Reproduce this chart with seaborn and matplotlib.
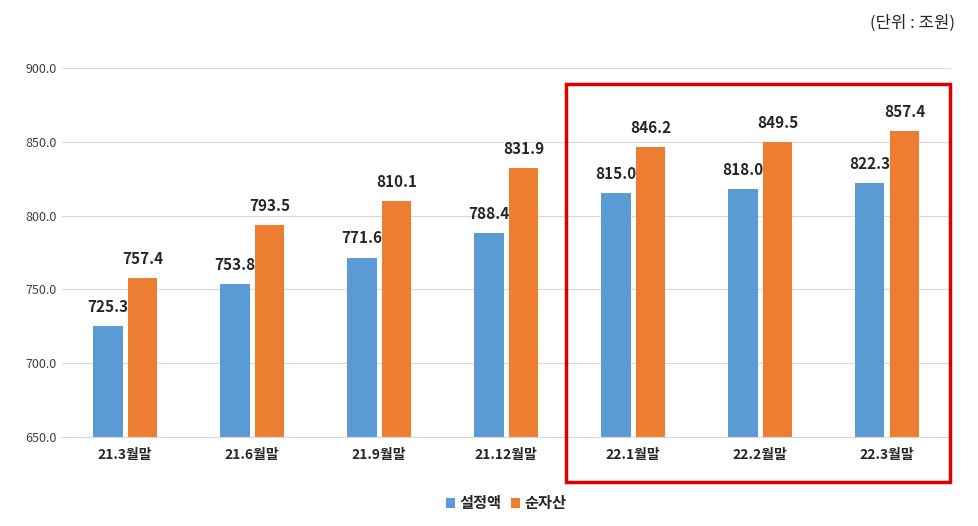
import matplotlib
matplotlib.use("Agg")
import matplotlib.pyplot as plt
import seaborn as sns
import pandas as pd
from matplotlib.patches import Rectangle

categories = ["21.3월말", "21.6월말", "21.9월말", "21.12월말", "22.1월말", "22.2월말", "22.3월말"]
setting = [725.3, 753.8, 771.6, 788.4, 815.0, 818.0, 822.3]
net_assets = [757.4, 793.5, 810.1, 831.9, 846.2, 849.5, 857.4]
series_names = ["설정액", "순자산"]
colors = ["#5B9BD5", "#ED7D31"]

sns.set_style("white")
plt.rcParams['font.family'] = ['Noto Sans CJK KR', 'DejaVu Sans']

df = pd.DataFrame({
    "cat": categories * 2,
    "series": [series_names[0]] * len(categories) + [series_names[1]] * len(categories),
    "value": setting + net_assets,
})

fig = plt.figure(figsize=(9.79, 5.26), dpi=100)
ax = fig.add_axes([0.063, 0.169, 0.908, 0.702])
sns.barplot(data=df, x="cat", y="value", hue="series", palette=colors, saturation=1,
            width=0.55, gap=0.15, ax=ax, legend=True, linewidth=0)
ax.set_ylim(650, 900)
ax.set_yticks(range(650, 901, 50))
ax.set_yticklabels([f"{v:.1f}" for v in range(650, 901, 50)], fontsize=9, color="#404040")
ax.tick_params(axis="x", labelsize=10, length=0, pad=8)
for lab in ax.get_xticklabels():
    lab.set_fontweight("bold")
ax.tick_params(axis="y", length=0)
ax.grid(axis="y", color="#D9D9D9", linewidth=0.8)
ax.set_axisbelow(True)
for s in ["top", "right", "left"]:
    ax.spines[s].set_visible(False)
ax.spines["bottom"].set_color("#D9D9D9")
ax.set_xlabel("")
ax.set_ylabel("")

for cont in ax.containers:
    ax.bar_label(cont, fmt="%.1f", fontsize=11, fontweight="bold", padding=8)

ax.legend(loc="upper center", bbox_to_anchor=(0.5, -0.12), ncol=2, frameon=False,
          handlelength=0.6, handleheight=0.6, columnspacing=0.6, handletextpad=0.3,
          prop={"weight": "bold", "size": 11})

fig.text(0.975, 0.955, "(단위 : 조원)", ha="right", va="center", fontsize=12)
fig.patches.append(Rectangle((566/979, 1-482/526), (950-566)/979, (482-84)/526,
                             transform=fig.transFigure, fill=False,
                             edgecolor="#E00000", linewidth=2.5))
fig.savefig("out.png", dpi=100)
